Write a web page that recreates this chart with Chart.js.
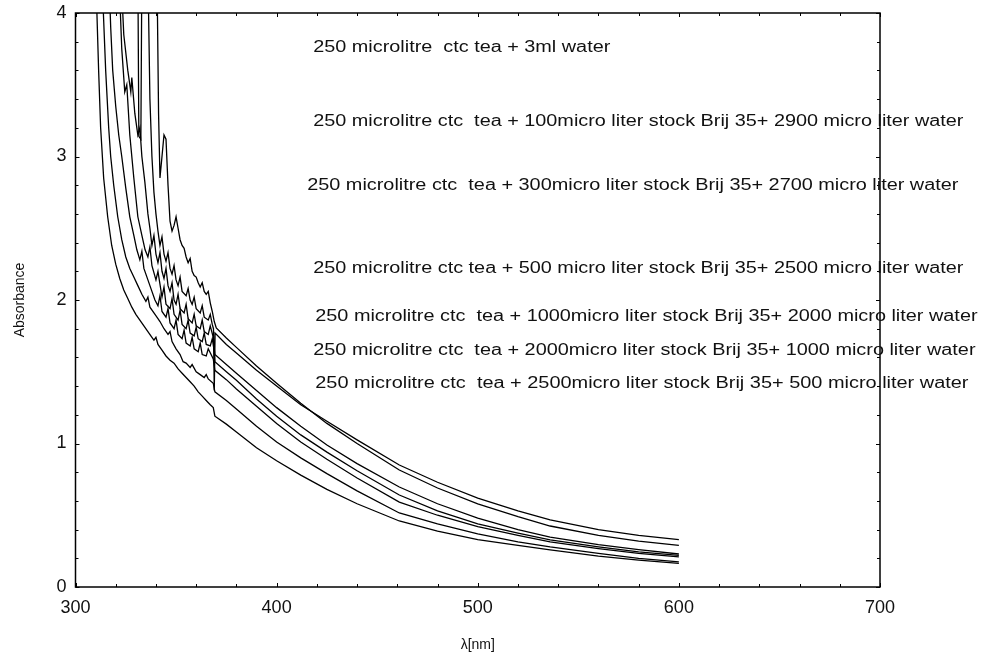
<!DOCTYPE html>
<html>
<head>
<meta charset="utf-8">
<script src="https://cdn.jsdelivr.net/npm/chart.js@4.4.1/dist/chart.umd.min.js"></script>
<style>
  html, body { margin: 0; padding: 0; background: #fff; }
  #wrap { width: 982px; height: 660px; }
</style>
</head>
<body>
<div id="wrap"><canvas id="spectre" width="982" height="660"></canvas></div>
<script>
/* ── Queue commune (partie lisse, > 370 nm) ───────────────── */
const lamQueue = [375, 380, 390, 400, 412, 425, 440, 461, 480, 500, 520, 536, 560, 580, 600];

/* ── Courbe G (la plus basse) ─────────────────────────────── */
const lamG = [310, 311.5, 312.5, 314, 316, 318, 320, 322, 324, 326, 328, 330, 332, 334, 336, 338, 339, 340, 341, 343,
              345, 347, 349, 351, 353, 355, 357, 359, 361, 363, 365, 367, 368.5, 369.3];
const absG = [4.3, 3.6, 3.2, 2.85, 2.58, 2.38, 2.25, 2.15, 2.07, 2.01, 1.95, 1.90, 1.86, 1.82, 1.78, 1.74, 1.72, 1.74, 1.69, 1.65,
              1.61, 1.58, 1.56, 1.52, 1.49, 1.46, 1.43, 1.40, 1.36, 1.33, 1.30, 1.27, 1.25, 1.19];
const queueG = [1.135, 1.08, 0.97, 0.88, 0.78, 0.68, 0.58, 0.46, 0.39, 0.33, 0.29, 0.258, 0.215, 0.187, 0.165];

/* ── Courbe F ─────────────────────────────────────────────── */
const lamF = [313, 315, 316.5, 317.5, 319, 321, 323, 325, 327, 329, 331, 333, 335, 336, 337, 339, 341, 342, 344, 346,
              347, 348, 350, 352, 353.5, 355, 357, 358, 360, 362, 364, 365, 366, 368.5, 369.3];
const absF = [4.3, 3.6, 3.2, 3.0, 2.8, 2.58, 2.42, 2.30, 2.22, 2.16, 2.10, 2.04, 1.99, 2.02, 1.95, 1.91, 1.87, 1.85, 1.80, 1.76,
              1.78, 1.71, 1.66, 1.62, 1.57, 1.56, 1.53, 1.55, 1.50, 1.48, 1.46, 1.48, 1.45, 1.42, 1.36];
const queueF = [1.30, 1.24, 1.12, 1.01, 0.90, 0.79, 0.67, 0.516, 0.44, 0.37, 0.315, 0.279, 0.235, 0.20, 0.175];

/* ── Courbe E ─────────────────────────────────────────────── */
const lamE = [316.5, 317.5, 318.5, 320, 321.5, 323, 325, 327, 329, 330.5, 332, 333, 334, 336, 338, 339.5, 341, 342, 343, 345,
              346, 347, 349, 350, 351, 353, 354, 355, 357, 358, 359, 361, 362, 363, 365, 366, 368.5, 369.3];
const absE = [4.3, 3.9, 3.6, 3.35, 3.15, 3.0, 2.78, 2.58, 2.45, 2.35, 2.28, 2.34, 2.22, 2.14, 2.06, 2.0, 1.96, 2.03, 1.92, 1.88,
              1.94, 1.84, 1.80, 1.86, 1.76, 1.73, 1.79, 1.70, 1.68, 1.74, 1.66, 1.64, 1.70, 1.62, 1.61, 1.66, 1.59, 1.51];
const queueE = [1.445, 1.38, 1.26, 1.14, 1.01, 0.89, 0.76, 0.592, 0.50, 0.42, 0.36, 0.314, 0.268, 0.235, 0.21];

/* ── Courbe D ─────────────────────────────────────────────── */
const lamD = [321.5, 323, 324.5, 325.5, 327, 329, 331, 333, 334.6, 336, 337, 338, 340, 341, 343, 344, 345, 347, 348, 349,
              351, 352, 353, 355, 356, 357, 359, 360, 361, 363, 364, 365, 367, 368, 368.8, 369.3];
const absD = [4.3, 3.75, 3.45, 3.5, 3.15, 2.85, 2.58, 2.45, 2.35, 2.30, 2.37, 2.24, 2.14, 2.20, 2.02, 2.09, 1.97, 1.94, 2.01, 1.90,
              1.86, 1.93, 1.83, 1.80, 1.86, 1.77, 1.75, 1.81, 1.73, 1.71, 1.77, 1.69, 1.68, 1.73, 1.66, 1.57];
const queueD = [1.50, 1.44, 1.31, 1.19, 1.06, 0.94, 0.81, 0.641, 0.53, 0.44, 0.375, 0.328, 0.28, 0.245, 0.22];

/* ── Courbe C ─────────────────────────────────────────────── */
const lamC = [322.5, 324, 326, 327.5, 328, 329.5, 331, 332, 333, 334.5, 336, 337, 338, 339, 340, 341, 342, 343, 344, 345,
              346, 347, 348, 349, 350, 351, 352, 354, 355, 356, 358, 359, 360, 362, 363, 364, 366, 367, 368.5, 369.3];
const absC = [4.3, 3.85, 3.6, 3.45, 3.55, 3.3, 3.15, 3.2, 3.0, 2.82, 2.6, 2.5, 2.38, 2.45, 2.32, 2.26, 2.33, 2.2, 2.15, 2.22,
              2.10, 2.06, 2.12, 2.0, 1.97, 2.04, 1.94, 1.91, 1.97, 1.87, 1.84, 1.90, 1.82, 1.80, 1.86, 1.78, 1.76, 1.82, 1.74, 1.62];
const queueC = [1.55, 1.49, 1.37, 1.25, 1.12, 0.99, 0.86, 0.697, 0.58, 0.48, 0.40, 0.348, 0.295, 0.26, 0.23];

/* ── Courbe B ─────────────────────────────────────────────── */
const lamB = [330, 331, 331.5, 332.5, 333, 336, 337, 338, 339, 340, 341, 342, 343, 344, 345, 346, 347, 348, 349, 350,
              351, 352, 353, 355, 356, 357, 358, 359, 360, 362, 363, 364, 366, 367, 368, 368.6, 369, 369.4];
const absB = [4.3, 4.3, 3.14, 3.12, 4.3, 4.3, 3.4, 3.0, 2.75, 2.6, 2.48, 2.38, 2.44, 2.32, 2.27, 2.33, 2.22, 2.18, 2.24, 2.14,
              2.10, 2.16, 2.06, 2.03, 2.08, 2.0, 1.97, 2.02, 1.94, 1.91, 1.96, 1.88, 1.86, 1.90, 1.83, 1.80, 1.37, 1.77];
const queueB = [1.69, 1.63, 1.51, 1.40, 1.27, 1.155, 1.025, 0.85, 0.73, 0.62, 0.53, 0.467, 0.40, 0.36, 0.33];

/* ── Courbe A (la plus haute à 370 nm) ────────────────────── */
const lamA = [338, 340.5, 341.3, 342, 343, 344, 345, 346, 347, 348, 349, 350, 351, 352, 353, 354, 355, 356, 357, 358,
              359, 360, 361, 362, 363, 364, 365, 366, 367, 368, 369, 370];
const absA = [4.3, 4.3, 3.3, 2.85, 3.0, 3.15, 3.12, 2.8, 2.55, 2.48, 2.52, 2.58, 2.50, 2.42, 2.38, 2.36, 2.30, 2.26, 2.29, 2.20,
              2.17, 2.16, 2.12, 2.09, 2.12, 2.06, 2.04, 2.06, 1.98, 1.92, 1.85, 1.805];
const queueA = [1.735, 1.67, 1.54, 1.42, 1.28, 1.14, 1.00, 0.815, 0.69, 0.58, 0.49, 0.425, 0.36, 0.32, 0.29];

/* ── Annotations (texte + ancrage en nm / absorbance) ─────── */
const libelles = [
  '250 microlitre  ctc tea + 3ml water',
  '250 microlitre ctc  tea + 100micro liter stock Brij 35+ 2900 micro liter water',
  '250 microlitre ctc  tea + 300micro liter stock Brij 35+ 2700 micro liter water',
  '250 microlitre ctc tea + 500 micro liter stock Brij 35+ 2500 micro liter water',
  '250 microlitre ctc  tea + 1000micro liter stock Brij 35+ 2000 micro liter water',
  '250 microlitre ctc  tea + 2000micro liter stock Brij 35+ 1000 micro liter water',
  '250 microlitre ctc  tea + 2500micro liter stock Brij 35+ 500 micro liter water',
];
const libDebutNm = [418.2, 418.2, 415.2, 418.2, 419.2, 418.2, 419.2];
const libFinNm   = [565.9, 741.5, 739.0, 741.5, 748.5, 747.5, 744.0];
const libAbs     = [3.756, 3.246, 2.80, 2.216, 1.886, 1.646, 1.42];

/* ── Graduations ──────────────────────────────────────────── */
const ticksX = [300, 400, 500, 600, 700];
const ticksY = [0, 1, 2, 3, 4];

const POLICE = "'Liberation Sans', Arial, sans-serif";

function serie(lam, abs, queue) {
  return [
    ...lam.map((x, i) => ({ x, y: abs[i] })),
    ...lamQueue.map((x, i) => ({ x, y: queue[i] })),
  ];
}

const courbes = [
  serie(lamA, absA, queueA), serie(lamB, absB, queueB), serie(lamC, absC, queueC),
  serie(lamD, absD, queueD), serie(lamE, absE, queueE), serie(lamF, absF, queueF),
  serie(lamG, absG, queueG),
];

/* Cadre, graduations internes, titres d'axes, annotations */
const habillage = {
  id: 'habillage',
  afterDatasetsDraw(chart) {
    const { ctx, chartArea: a, scales: { x, y } } = chart;
    ctx.save();
    ctx.strokeStyle = '#000';
    ctx.lineWidth = 1.5;
    ctx.strokeRect(a.left, a.top, a.right - a.left, a.bottom - a.top);

    ctx.lineWidth = 1;
    ctx.beginPath();
    for (let v = 300; v <= 700; v += 20) {
      const px = Math.round(x.getPixelForValue(v)) + 0.5;
      const L = v % 100 === 0 ? 4 : 3;
      ctx.moveTo(px, a.bottom); ctx.lineTo(px, a.bottom - L);
      ctx.moveTo(px, a.top);    ctx.lineTo(px, a.top + L);
    }
    for (let k = 0; k <= 20; k++) {
      const py = Math.round(y.getPixelForValue(k * 0.2)) + 0.5;
      const L = k % 5 === 0 ? 4 : 3;
      ctx.moveTo(a.left, py);  ctx.lineTo(a.left + L, py);
      ctx.moveTo(a.right, py); ctx.lineTo(a.right - L, py);
    }
    ctx.stroke();

    ctx.fillStyle = '#111';
    ctx.font = `14px ${POLICE}`;
    ctx.textAlign = 'center';
    ctx.textBaseline = 'middle';
    ctx.fillText('λ[nm]', (a.left + a.right) / 2, 645);
    ctx.save();
    ctx.translate(20, (a.top + a.bottom) / 2);
    ctx.rotate(-Math.PI / 2);
    ctx.fillText('Absorbance', 0, 0);
    ctx.restore();

    ctx.font = `16px ${POLICE}`;
    ctx.textAlign = 'left';
    libelles.forEach((t, i) => {
      const x0 = x.getPixelForValue(libDebutNm[i]);
      const x1 = x.getPixelForValue(libFinNm[i]);
      const yc = y.getPixelForValue(libAbs[i]);
      const w  = ctx.measureText(t).width;
      ctx.save();
      ctx.translate(x0, yc);
      ctx.scale((x1 - x0) / w, 1);
      ctx.fillText(t, 0, 0);
      ctx.restore();
    });
    ctx.restore();
  },
};

new Chart(document.getElementById('spectre').getContext('2d'), {
  type: 'line',
  data: {
    datasets: courbes.map((d, i) => ({
      label: libelles[i],
      data: d,
      borderColor: '#000',
      borderWidth: 1.3,
      pointRadius: 0,
      tension: 0,
      fill: false,
    })),
  },
  options: {
    responsive: false,
    animation: false,
    events: [],
    layout: { padding: { top: 13, right: 102, left: 0, bottom: 0 } },
    plugins: { legend: { display: false }, tooltip: { enabled: false } },
    scales: {
      x: {
        type: 'linear', min: 300, max: 700,
        afterBuildTicks: s => { s.ticks = ticksX.map(v => ({ value: v })); },
        afterFit: s => { s.height = 73; s.paddingLeft = 0; s.paddingRight = 0; },
        grid: { display: false, drawTicks: false },
        border: { display: false },
        ticks: { color: '#111', font: { family: POLICE, size: 18 }, padding: 10, maxRotation: 0 },
      },
      y: {
        type: 'linear', min: 0, max: 4,
        afterBuildTicks: s => { s.ticks = ticksY.map(v => ({ value: v })); },
        afterFit: s => { s.width = 75.5; s.paddingTop = 0; s.paddingBottom = 0; },
        grid: { display: false, drawTicks: false },
        border: { display: false },
        ticks: { color: '#111', font: { family: POLICE, size: 18 }, padding: 9 },
      },
    },
  },
  plugins: [habillage],
});
</script>
</body>
</html>
